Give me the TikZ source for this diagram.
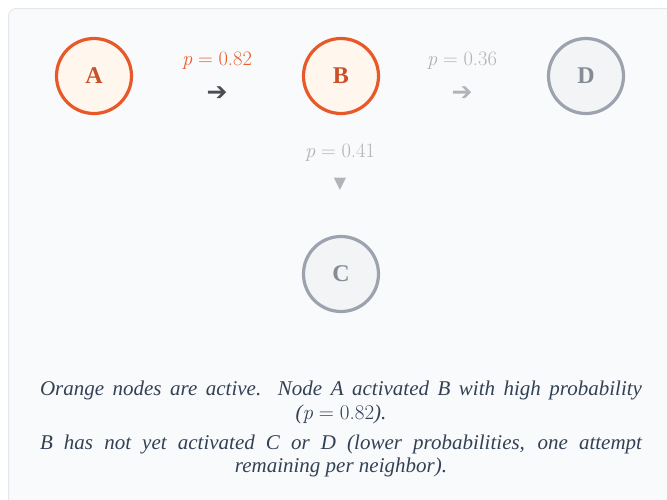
\documentclass[tikz,border=0pt]{standalone}
\usepackage{fontspec}
\setmainfont{Liberation Serif}
\newfontfamily\symfont{DejaVu Sans}
\newcommand\lmr{\fontfamily{lmr}\selectfont}
\newcommand\pexpr[1]{{\lmr\itshape p}\hspace{0.28em}{\lmr\upshape=}\hspace{0.28em}{\lmr\upshape #1}}
\definecolor{panelbg}{HTML}{F9FAFB}
\definecolor{panelline}{HTML}{E5E7EB}
\definecolor{actline}{HTML}{E8592A}
\definecolor{actfill}{HTML}{FFF7EE}
\definecolor{acttext}{HTML}{C9512A}
\definecolor{inline}{HTML}{9CA3AF}
\definecolor{infill}{HTML}{F3F4F6}
\definecolor{intext}{HTML}{858C96}
\definecolor{plabel}{HTML}{E8602F}
\definecolor{glabel}{HTML}{B0B3B8}
\definecolor{darkarrow}{HTML}{4A4D52}
\definecolor{captext}{HTML}{334155}
\tikzset{
  active/.style={circle, draw=actline, fill=actfill, line width=3.2pt, minimum size=75pt, inner sep=0pt, text=acttext, font=\fontsize{24}{26}\selectfont\bfseries},
  inactive/.style={circle, draw=inline, fill=infill, line width=3.2pt, minimum size=75pt, inner sep=0pt, text=intext, font=\fontsize{24}{26}\selectfont\bfseries},
  problabel/.style={font=\fontsize{20.5}{22}\selectfont, inner sep=0pt},
  arrowglyph/.style={font=\symfont\fontsize{25}{26}\selectfont, inner sep=0pt},
  captionbox/.style={align=center, inner sep=0pt, text=captext, font=\fontsize{21}{23.5}\selectfont\itshape}
}
\begin{document}
\begin{tikzpicture}[x=1pt,y=-1pt]
\useasboundingbox (0,0) rectangle (667,499);
\fill[white] (0,0) rectangle (667,499);
\draw[panelline, fill=panelbg, line width=1pt, rounded corners=8pt] (8.5,8.5) rectangle (690,520);
\node[active] (A) at (94,76) {A};
\node[active] (B) at (341,76) {B};
\node[inactive] (D) at (586,76) {D};
\node[inactive] (C) at (341,274) {C};
\node[problabel, text=plabel] (lab1) at (217,61) {\pexpr{0.82}};
\node[arrowglyph, text=darkarrow] (arr1) at (217,94) {➔};
\node[problabel, text=glabel] (lab2) at (462,61) {\pexpr{0.36}};
\node[arrowglyph, text=glabel] (arr2) at (462,94) {➔};
\node[problabel, text=glabel] (lab3) at (340,153) {\pexpr{0.41}};
\node[arrowglyph, text=glabel, font=\symfont\fontsize{16}{17}\selectfont] (arr3) at (340,184) {▼};
\node[captionbox] (cap1) at (341,402.5) {\makebox[602pt][s]{Orange nodes are active. Node A activated B with high probability}\\(\pexpr{0.82}).};
\node[captionbox] (cap2) at (341,456) {\makebox[602pt][s]{B has not yet activated C or D (lower probabilities, one attempt}\\remaining per neighbor).};
\end{tikzpicture}
\end{document}
